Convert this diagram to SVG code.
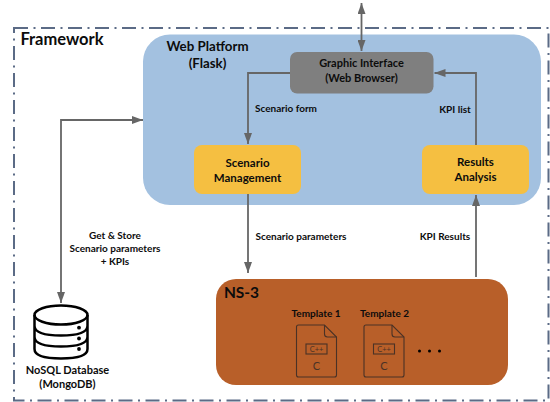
<svg xmlns="http://www.w3.org/2000/svg" width="550" height="402" viewBox="0 0 550 402">
<style>
text{font-family:Lato,"Liberation Sans",sans-serif;font-weight:700;fill:#0c0c0c;text-anchor:middle}
.s{font-size:10px}.g{font-size:11px}.m{font-size:11.5px}.l{font-size:13.300px}
.c{fill:none;stroke:#666;stroke-width:1.800}
.t{fill:none;stroke:#4a3226;stroke-width:1.100}
.d{fill:none;stroke:#000;stroke-width:2.500}
</style>
<defs>
<marker id="b" viewBox="0 0 11 8" refX="11" refY="4" markerWidth="11" markerHeight="8" markerUnits="userSpaceOnUse" orient="auto-start-reverse"><path d="M0 0L11 4L0 8Z" fill="#666"/></marker>
<g id="doc"><path class="t" d="M2 0H28L40 12V50Q40 52 38 52H2Q0 52 0 50V2Q0 0 2 0Z"/><path class="t" d="M28 0V9Q28 12 31 12H40"/><rect class="t" x="9.500" y="19" width="21" height="10"/><text x="20" y="27" style="font-size:7.500px;font-weight:400;fill:#4a3226">C++</text><text x="20" y="45" style="font-size:11px;font-weight:400;fill:#4a3226">C</text></g>
</defs>
<rect width="550" height="402" fill="#fff"/>
<g id="framework"><rect x="14" y="28" width="534.500" height="372.500" fill="none" stroke="#5b6b86" stroke-width="2" stroke-dasharray="14 5.500 2 5.500"/><text x="62" y="44.500" style="font-size:16.500px">Framework</text></g>
<g id="web-platform"><rect x="143" y="34.500" width="398" height="170.500" rx="27" fill="#a3c1e0"/><text class="l" x="207.500" y="50.500">Web Platform</text><text class="l" x="207.500" y="67.500">(Flask)</text></g>
<g id="connectors">
<path class="c" d="M361.500 3V51" marker-start="url(#b)" marker-end="url(#b)"/>
<path class="c" d="M290 73H248V144" marker-end="url(#b)"/>
<path class="c" d="M476 145V73H434.500" marker-end="url(#b)"/>
<path class="c" d="M61 303V120H143" marker-start="url(#b)" marker-end="url(#b)"/>
<path class="c" d="M248 194V273" marker-end="url(#b)"/>
<path class="c" d="M476 277V195" marker-end="url(#b)"/>
</g>
<g id="graphic-interface"><rect x="290" y="52" width="143.500" height="41.500" rx="7" fill="#7f7f7f"/><text class="g" x="361.500" y="67">Graphic Interface</text><text class="g" x="361.500" y="81.500">(Web Browser)</text></g>
<g id="scenario-management"><rect x="194" y="145" width="107" height="49" rx="8" fill="#f5bf41"/><text class="m" x="247.500" y="167">Scenario</text><text class="m" x="247.500" y="182">Management</text></g>
<g id="results-analysis"><rect x="422" y="145" width="107" height="49" rx="8" fill="#f5bf41"/><text class="m" x="475.500" y="166">Results</text><text class="m" x="475.500" y="181">Analysis</text></g>
<g id="ns3"><rect x="216" y="279" width="292" height="106" rx="20" fill="#b85f29"/><text x="241.500" y="298" style="font-size:15.500px">NS-3</text>
<text class="s" x="316" y="317">Template 1</text><text class="s" x="384.500" y="317">Template 2</text>
<use href="#doc" x="296.500" y="325"/><use href="#doc" x="364" y="325"/>
<circle cx="419.500" cy="351" r="1.500" fill="#000"/><circle cx="429.500" cy="351" r="1.500" fill="#000"/><circle cx="439.500" cy="351" r="1.500" fill="#000"/></g>
<g id="database">
<ellipse class="d" cx="61" cy="315" rx="26.500" ry="9.500"/>
<path class="d" d="M34.500 315V349Q34.500 358.500 61 358.500Q87.500 358.500 87.500 349V315M34.500 326Q35 335.500 61 335.500Q87 335.500 87.500 326M34.500 337Q35 346.500 61 346.500Q87 346.500 87.500 337"/>
<circle cx="79" cy="327.700" r="1.900"/><circle cx="79" cy="338.500" r="1.900"/><circle cx="79" cy="349" r="1.900"/>
<text class="g" x="67.500" y="374">NoSQL Database</text><text class="g" x="67.500" y="388">(MongoDB)</text></g>
<g id="labels">
<text class="s" x="286" y="112">Scenario form</text>
<text class="s" x="455" y="113">KPI list</text>
<text class="s" x="115" y="238.500">Get &amp; Store</text>
<text class="s" x="115" y="251.500">Scenario parameters</text>
<text class="s" x="115" y="265">+ KPIs</text>
<text class="s" x="301" y="239.500">Scenario parameters</text>
<text class="s" x="445" y="239.500">KPI Results</text>
</g>
</svg>
